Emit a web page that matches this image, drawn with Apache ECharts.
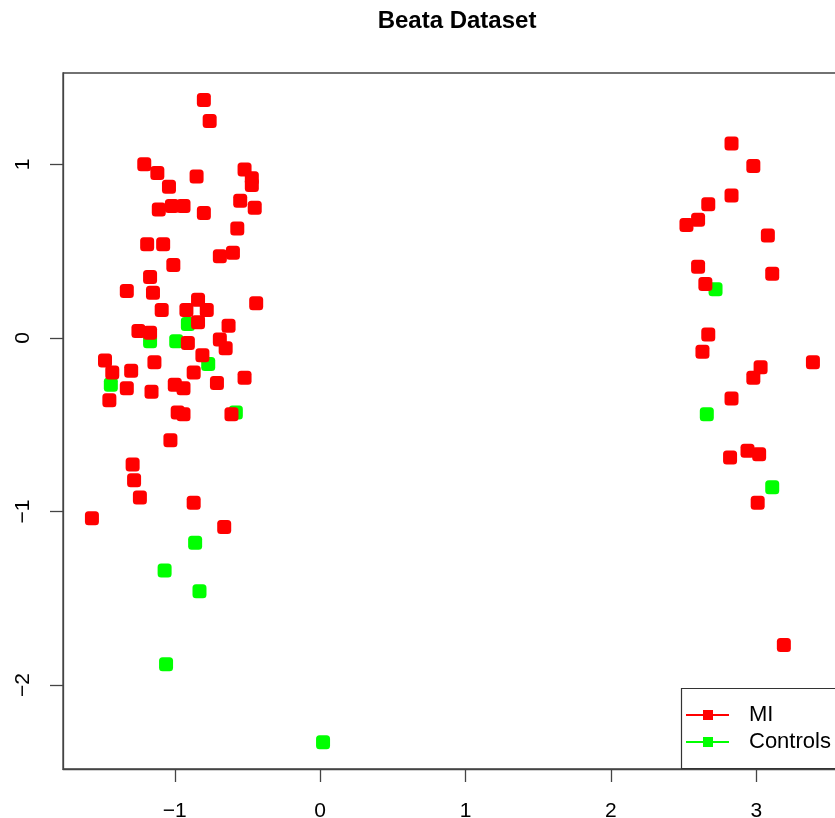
<!DOCTYPE html>
<html>
<head>
<meta charset="utf-8">
<script src="https://cdn.jsdelivr.net/npm/echarts@6/dist/echarts.min.js"></script>
<style>
html,body{margin:0;padding:0;background:#fff;overflow:hidden;}
#chart{width:835px;height:818px;}
</style>
</head>
<body>
<div id="chart"></div>
<script>
const chartTitle = "Beata Dataset";
const seriesNames = ["MI", "Controls"];
const xTicks = [-1, 0, 1, 2, 3];
const yTicks = [-2, -1, 0, 1];

const miX = [-0.80,-0.76,-1.21,-1.12,-0.85,-1.04,-0.52,-0.47,-0.47,-0.55,
             -0.45,-1.11,-1.02,-0.94,-0.80,-0.57,-1.19,-1.08,-0.69,-0.60,
             -1.01,-1.17,-1.33,-1.15,-0.44,-1.09,-0.84,-0.92,-0.78,-0.84,
             -0.63,-1.25,-1.17,-0.91,-0.69,-0.65,-0.81,-1.48,-1.14,-1.43,
             -1.30,-0.87,-0.52,-0.71,-1.33,-1.16,-1.00,-0.94,-1.45,-0.98,
             -0.94,-0.61,-1.03,-1.29,-1.28,-1.24,-0.87,-1.57,-0.66,
             2.83,2.98,2.83,2.67,2.60,2.52,3.08,2.60,3.11,2.65,
             2.67,2.63,3.39,3.03,2.98,2.83,2.82,2.94,3.02,3.01,3.19];
const miY = [1.37,1.25,1.00,0.95,0.93,0.87,0.97,0.92,0.88,0.79,
             0.75,0.74,0.76,0.76,0.72,0.63,0.54,0.54,0.47,0.49,
             0.42,0.35,0.27,0.26,0.20,0.16,0.22,0.16,0.16,0.09,
             0.07,0.04,0.03,-0.03,-0.01,-0.06,-0.10,-0.13,-0.14,-0.20,
             -0.19,-0.20,-0.23,-0.26,-0.29,-0.31,-0.27,-0.29,-0.36,-0.43,
             -0.44,-0.44,-0.59,-0.73,-0.82,-0.92,-0.95,-1.04,-1.09,
             1.12,0.99,0.82,0.77,0.68,0.65,0.59,0.41,0.37,0.31,
             0.02,-0.08,-0.14,-0.17,-0.23,-0.35,-0.69,-0.65,-0.67,-0.95,-1.77];

const ctlX = [-0.91,-1.17,-0.99,-0.77,-1.44,-0.58,-0.86,-1.07,-0.83,-1.06,0.02,2.72,2.66,3.11];
const ctlY = [0.08,-0.02,-0.02,-0.15,-0.27,-0.43,-1.18,-1.34,-1.46,-1.88,-2.33,0.28,-0.44,-0.86];

const zip = (xs, ys) => xs.map((x, i) => [x, ys[i]]);
const fmt = v => String(v).replace('-', '\u2212');
const FONT = "'Liberation Sans', Arial, Helvetica, sans-serif";
const AX = '#444';

const chart = echarts.init(document.getElementById('chart'), null, {renderer: 'canvas'});
chart.setOption({
  animation: false,
  backgroundColor: '#fff',
  title: {
    text: chartTitle,
    left: 452, top: 4, textAlign: 'center',
    textStyle: {fontFamily: FONT, fontWeight: 'bold', fontSize: 24, color: '#000'}
  },
  grid: {
    left: 63, top: 73, width: 779, height: 696,
    show: true, borderColor: AX, borderWidth: 1.3, backgroundColor: 'transparent',
    containLabel: false, outerBoundsMode: 'none'
  },
  xAxis: {
    type: 'value', min: -1.769, max: 3.59,
    axisLine: {show: true, onZero: false, lineStyle: {color: AX, width: 1.3}},
    axisTick: {show: true, length: 13, customValues: xTicks, lineStyle: {color: AX, width: 1.3}},
    axisLabel: {show: true, customValues: xTicks, margin: 32, formatter: fmt,
      fontFamily: FONT, fontSize: 21, color: '#000'},
    splitLine: {show: false}
  },
  yAxis: {
    type: 'value', min: -2.484, max: 1.526,
    axisLine: {show: true, onZero: false, lineStyle: {color: AX, width: 1.3}},
    axisTick: {show: true, length: 13, customValues: yTicks, lineStyle: {color: AX, width: 1.3}},
    axisLabel: {show: true, customValues: yTicks, margin: 29, rotate: 90, formatter: fmt,
      fontFamily: FONT, fontSize: 21, color: '#000'},
    splitLine: {show: false}
  },
  legend: {
    data: seriesNames,
    orient: 'vertical',
    left: 686, top: 703,
    padding: 0, itemGap: 3,
    itemWidth: 43, itemHeight: 10,
    selectedMode: false,
    icon: 'path://M0,9L43,9L43,11L0,11Z M17,5L27,5L27,15L17,15Z',
    textStyle: {fontFamily: FONT, fontSize: 22, color: '#000', lineHeight: 24, padding: [0,0,0,15]},
    z: 10
  },
  graphic: [{
    type: 'rect', z: 5,
    shape: {x: 681.5, y: 688.5, width: 200, height: 80},
    style: {fill: '#fff', stroke: '#333', lineWidth: 1.2}
  }],
  series: [
    {
      name: seriesNames[0], type: 'scatter', z: 3,
      data: zip(miX, miY),
      symbol: 'roundRect', symbolSize: 14,
      itemStyle: {color: '#ff0000', opacity: 1}
    },
    {
      name: seriesNames[1], type: 'scatter', z: 2,
      data: zip(ctlX, ctlY),
      symbol: 'roundRect', symbolSize: 14,
      itemStyle: {color: '#00ff00', opacity: 1}
    }
  ]
});
</script>
</body>
</html>
